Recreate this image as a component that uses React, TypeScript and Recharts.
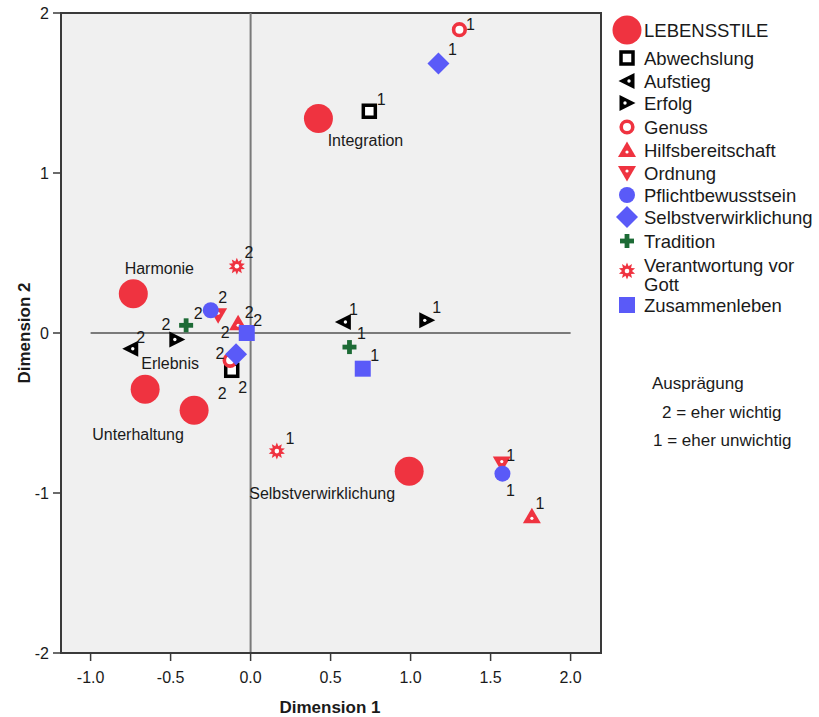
import React from 'react';
import { ScatterChart, Scatter, XAxis, YAxis, ReferenceLine, ReferenceArea } from 'recharts';

// ---------- data ----------
const lifestyleNames = ['Integration', 'Harmonie', 'Erlebnis', 'Unterhaltung', 'Selbstverwirklichung'];
const lifestyleX = [0.424, -0.733, -0.659, -0.353, 0.991];
const lifestyleY = [1.34, 0.246, -0.352, -0.483, -0.864];

const categories = [
  'Abwechslung', 'Aufstieg', 'Erfolg', 'Genuss', 'Hilfsbereitschaft', 'Ordnung',
  'Pflichtbewusstsein', 'Selbstverwirklichung', 'Tradition', 'Verantwortung vor Gott', 'Zusammenleben',
];
// Ausprägung 1 = eher unwichtig
const level1X = [0.742, 0.58, 1.101, 1.305, 1.758, 1.57, 1.574, 1.174, 0.618, 0.164, 0.701];
const level1Y = [1.386, 0.069, 0.079, 1.896, -1.146, -0.816, -0.879, 1.684, -0.088, -0.738, -0.223];
// Ausprägung 2 = eher wichtig
const level2X = [-0.118, -0.749, -0.461, -0.128, -0.078, -0.203, -0.249, -0.091, -0.403, -0.086, -0.024];
const level2Y = [-0.233, -0.098, -0.041, -0.171, 0.061, 0.111, 0.142, -0.133, 0.048, 0.417, 0.0];

const xTicks = [-1, -0.5, 0, 0.5, 1, 1.5, 2];
const yTicks = [-2, -1, 0, 1, 2];

// ---------- styles / layout ----------
const RED = '#EF3340';
const BLUE = '#5A5AF8';
const GREEN = '#1D6B36';
const BLACK = '#000000';
const FONT = "'Liberation Sans', Arial, sans-serif";

const markerKinds = [
  'hollowSquare', 'leftTri', 'rightTri', 'hollowCircle', 'upTri', 'downTri',
  'blueCircle', 'diamond', 'cross', 'star', 'blueSquare',
];

const lifestyleLabelOffsets = [[47, 22], [26, -25], [25, -26], [-56, 24], [-87, 22]];
const level1Offsets = [[12, -12], [10, -12], [10, -13], [11, -5], [8, -13], [9, -8], [8, 17], [14, -14], [12, -14], [13, -13], [12, -13]];
const level2Offsets = [[11, 17], [10, -11], [-11, -15], [-8, 33], [11, -11], [7, 17], [12, -13], [-16, -1], [12, -12], [12, -14], [11, -13]];

function starPoints(cx: number, cy: number, ro: number, ri: number, n: number) {
  const pts: string[] = [];
  for (let i = 0; i < n * 2; i++) {
    const r = i % 2 === 0 ? ro : ri;
    const a = (Math.PI * i) / n - Math.PI / 2;
    pts.push(`${cx + r * Math.cos(a)},${cy + r * Math.sin(a)}`);
  }
  return pts.join(' ');
}

function Marker({ kind, cx, cy }: { kind: string; cx: number; cy: number }) {
  switch (kind) {
    case 'big':
      return <circle cx={cx} cy={cy} r={14.5} fill={RED} />;
    case 'hollowSquare':
      return <rect x={cx - 6} y={cy - 6} width={12} height={12} fill="#FFFFFF" stroke={BLACK} strokeWidth={3.5} />;
    case 'leftTri':
      return (
        <g>
          <polygon points={`${cx - 8.5},${cy} ${cx + 7.5},${cy - 8} ${cx + 7.5},${cy + 8}`} fill={BLACK} />
          <circle cx={cx + 2} cy={cy} r={1.7} fill="#FFFFFF" />
        </g>
      );
    case 'rightTri':
      return (
        <g>
          <polygon points={`${cx + 8.5},${cy} ${cx - 7.5},${cy - 8} ${cx - 7.5},${cy + 8}`} fill={BLACK} />
          <circle cx={cx - 2} cy={cy} r={1.7} fill="#FFFFFF" />
        </g>
      );
    case 'hollowCircle':
      return <circle cx={cx} cy={cy} r={5.8} fill="#FFFFFF" stroke={RED} strokeWidth={3.6} />;
    case 'upTri':
      return (
        <g>
          <polygon points={`${cx},${cy - 8.5} ${cx - 9},${cy + 7} ${cx + 9},${cy + 7}`} fill={RED} />
          <circle cx={cx} cy={cy + 2} r={1.6} fill="#FFFFFF" />
        </g>
      );
    case 'downTri':
      return (
        <g>
          <polygon points={`${cx},${cy + 8.5} ${cx - 9},${cy - 7} ${cx + 9},${cy - 7}`} fill={RED} />
          <circle cx={cx} cy={cy - 2} r={1.6} fill="#FFFFFF" />
        </g>
      );
    case 'blueCircle':
      return <circle cx={cx} cy={cy} r={8} fill={BLUE} />;
    case 'diamond':
      return <polygon points={`${cx},${cy - 11} ${cx + 11},${cy} ${cx},${cy + 11} ${cx - 11},${cy}`} fill={BLUE} />;
    case 'cross':
      return (
        <g fill={GREEN}>
          <rect x={cx - 7} y={cy - 2.4} width={14} height={4.8} />
          <rect x={cx - 2.4} y={cy - 7} width={4.8} height={14} />
        </g>
      );
    case 'star':
      return (
        <g>
          <polygon points={starPoints(cx, cy, 8.5, 5, 10)} fill={RED} />
          <circle cx={cx} cy={cy} r={2.3} fill="#FFFFFF" />
        </g>
      );
    case 'blueSquare':
      return <rect x={cx - 8} y={cy - 8} width={16} height={16} fill={BLUE} />;
    default:
      return null;
  }
}

const makeShape = (kind: string, textSize: number) => (props: any) => {
  const { cx, cy, payload } = props;
  if (cx == null || cy == null) return null;
  const [dx, dy] = payload.off;
  return (
    <g>
      <Marker kind={kind} cx={cx} cy={cy} />
      <text x={cx + dx} y={cy + dy} textAnchor="middle" dominantBaseline="central" fontSize={textSize} fontFamily={FONT} fill="#1a1a1a">
        {payload.label}
      </text>
    </g>
  );
};

const lifestyleData = lifestyleNames.map((n, i) => ({ x: lifestyleX[i], y: lifestyleY[i], label: n, off: lifestyleLabelOffsets[i] }));
const seriesData = categories.map((c, i) => [
  { x: level1X[i], y: level1Y[i], label: '1', off: level1Offsets[i] },
  { x: level2X[i], y: level2Y[i], label: '2', off: level2Offsets[i] },
]);

const legendRows = [
  { name: 'LEBENSSTILE', kind: 'big', y: 30 },
  ...categories.map((c, i) => ({ name: c, kind: markerKinds[i], y: [58, 81, 103, 127, 150, 173, 195, 217, 241, 271, 305][i] })),
];

export default function App() {
  return (
    <div style={{ position: 'absolute', left: 0, top: 0, width: 819, height: 717, background: '#FFFFFF', fontFamily: FONT }}>
      <ScatterChart width={819} height={717} margin={{ top: 13, right: 218, bottom: 0, left: 0 }}>
        <XAxis
          type="number"
          dataKey="x"
          domain={[-1.185, 2.19]}
          ticks={xTicks}
          allowDataOverflow
          height={64}
          tickSize={8}
          tickMargin={11}
          tickFormatter={(v: number) => v.toFixed(1)}
          tick={{ fontSize: 16, fontFamily: FONT, fill: '#1a1a1a' }}
          axisLine={{ stroke: '#3a3a3a', strokeWidth: 2 }}
          tickLine={{ stroke: '#3a3a3a', strokeWidth: 1.5 }}
        />
        <YAxis
          type="number"
          dataKey="y"
          domain={[-2, 2]}
          ticks={yTicks}
          allowDataOverflow
          width={61}
          tickSize={8}
          tickMargin={4}
          tick={{ fontSize: 16, fontFamily: FONT, fill: '#1a1a1a' }}
          axisLine={{ stroke: '#3a3a3a', strokeWidth: 2 }}
          tickLine={{ stroke: '#3a3a3a', strokeWidth: 1.5 }}
        />
        <ReferenceArea x1={-1.185} x2={2.19} y1={-2} y2={2} fill="#F0F0F0" fillOpacity={1} stroke="#3a3a3a" strokeWidth={2} />
        <ReferenceLine x={0} stroke="#7a7a7a" strokeWidth={2} />
        <ReferenceLine segment={[{ x: -1, y: 0 }, { x: 2, y: 0 }]} stroke="#7a7a7a" strokeWidth={2} />
        <Scatter name="LEBENSSTILE" data={lifestyleData} isAnimationActive={false} shape={makeShape('big', 16)} />
        {categories.map((c, i) => (
          <Scatter key={c} name={c} data={seriesData[i]} isAnimationActive={false} shape={makeShape(markerKinds[i], 16)} />
        ))}
      </ScatterChart>
      <svg width={819} height={717} style={{ position: 'absolute', left: 0, top: 0, pointerEvents: 'none' }}>
        <text x={330} y={707} textAnchor="middle" dominantBaseline="central" fontSize={17} fontWeight="bold" fontFamily={FONT} fill="#1a1a1a">
          Dimension 1
        </text>
        <text x={24} y={333} textAnchor="middle" dominantBaseline="central" fontSize={17} fontWeight="bold" fontFamily={FONT} fill="#1a1a1a" transform="rotate(-90 24 333)">
          Dimension 2
        </text>
        {legendRows.map((r) => (
          <g key={r.name}>
            <Marker kind={r.kind} cx={627} cy={r.y} />
            {r.name === 'Verantwortung vor Gott' ? (
              <text fontSize={18.5} fontFamily={FONT} fill="#1a1a1a">
                <tspan x={644} y={265} dominantBaseline="central">Verantwortung vor</tspan>
                <tspan x={644} y={284} dominantBaseline="central">Gott</tspan>
              </text>
            ) : (
              <text x={644} y={r.y} dominantBaseline="central" fontSize={18.5} fontFamily={FONT} fill="#1a1a1a">
                {r.name}
              </text>
            )}
          </g>
        ))}
        <text x={652} y={383} dominantBaseline="central" fontSize={17} fontFamily={FONT} fill="#1a1a1a">Ausprägung</text>
        <text x={662} y={412} dominantBaseline="central" fontSize={17} fontFamily={FONT} fill="#1a1a1a">2 = eher wichtig</text>
        <text x={653} y={440} dominantBaseline="central" fontSize={17} fontFamily={FONT} fill="#1a1a1a">1 = eher unwichtig</text>
      </svg>
    </div>
  );
}
